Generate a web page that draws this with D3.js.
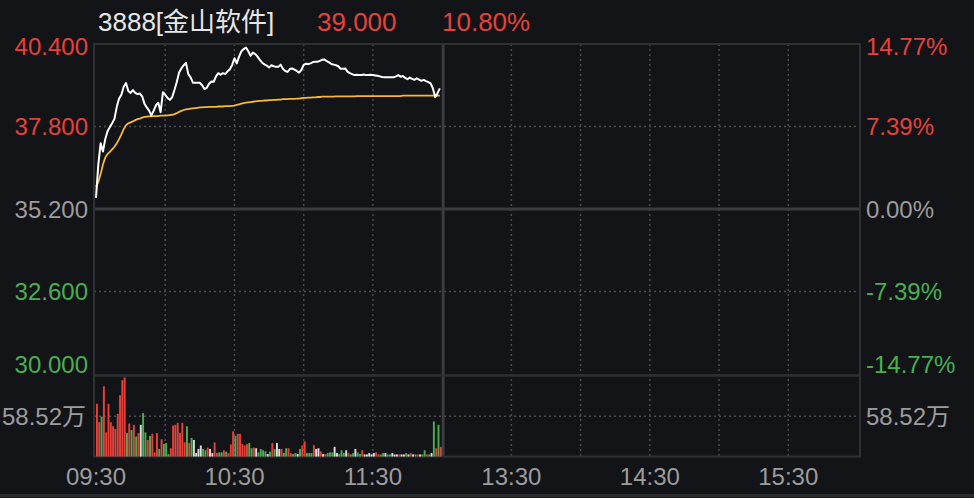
<!DOCTYPE html>
<html>
<head>
<meta charset="utf-8">
<script src="https://cdn.jsdelivr.net/npm/d3@7"></script>
<style>
  html, body { margin: 0; padding: 0; background: #131417; }
  svg { display: block; font-family: "Liberation Sans", Arial, "Noto Sans CJK SC", sans-serif; }
</style>
</head>
<body>
<div id="chart"></div>
<script>
// header
const stockName = "3888[金山软件]";
const lastPrice = "39.000";
const lastChange = "10.80%";

// price axis
const prevClose = 35.2;
const priceTicks = [40.4, 37.8, 35.2, 32.6, 30.0];
const pctTickLabels = ["14.77%", "7.39%", "0.00%", "-7.39%", "-14.77%"];

// volume axis (万)
const volumeTick = 58.52;
const volumeTickLabel = "58.52万";
const volumeMax = 117.04;

// time axis
const timeLabels = ["09:30", "10:30", "11:30", "13:30", "14:30", "15:30"];

// one value per minute from 09:30
const minutePrices = [
  35.55, 36.60, 37.27, 37.01, 37.40, 37.65, 37.78, 37.90, 38.04, 38.42,
  38.68, 38.80, 39.05, 39.17, 38.92, 38.86, 38.95, 38.86, 38.82, 38.84,
  38.75, 38.52, 38.40, 38.30, 38.15, 38.30, 38.47, 38.55, 38.25, 38.88,
  38.80, 38.70, 38.64, 38.72, 38.95, 39.20, 39.50, 39.63, 39.73, 39.80,
  39.45, 39.35, 39.18, 39.18, 39.18, 39.18, 39.10, 38.98, 39.02, 39.15,
  39.22, 39.21, 39.38, 39.48, 39.43, 39.48, 39.45, 39.54, 39.60, 39.74,
  39.95, 39.79, 40.00, 40.17, 40.24, 40.29, 40.17, 40.03, 40.13, 40.08,
  40.00, 39.90, 39.81, 39.76, 39.72, 39.66, 39.73, 39.70, 39.68, 39.68,
  39.75, 39.62, 39.55, 39.52, 39.61, 39.63, 39.59, 39.55, 39.50, 39.58,
  39.74, 39.78, 39.77, 39.79, 39.83, 39.84, 39.84, 39.87, 39.90, 39.91,
  39.86, 39.82, 39.77, 39.75, 39.73, 39.70, 39.62, 39.62, 39.63, 39.53,
  39.48, 39.45, 39.42, 39.43, 39.42, 39.42, 39.44, 39.42, 39.42, 39.43,
  39.42, 39.41, 39.40, 39.38, 39.36, 39.35, 39.35, 39.35, 39.35, 39.35,
  39.38, 39.42, 39.37, 39.39, 39.33, 39.29, 39.34, 39.30, 39.27, 39.32,
  39.28, 39.24, 39.27, 39.23, 39.20, 39.16, 39.00, 38.72, 38.85, 39.00
];

const averagePrices = [
  35.90, 36.05, 36.30, 36.60, 36.82, 36.93, 37.00, 37.08, 37.16, 37.27,
  37.40, 37.55, 37.72, 37.84, 37.90, 37.93, 37.96, 38.00, 38.03, 38.05,
  38.08, 38.10, 38.11, 38.12, 38.12, 38.13, 38.13, 38.13, 38.14, 38.14,
  38.14, 38.15, 38.16, 38.17, 38.19, 38.22, 38.26, 38.29, 38.32, 38.34,
  38.35, 38.36, 38.37, 38.38, 38.39, 38.40, 38.40, 38.41, 38.41, 38.42,
  38.42, 38.42, 38.42, 38.43, 38.43, 38.43, 38.44, 38.44, 38.44, 38.45,
  38.46, 38.48, 38.50, 38.52, 38.54, 38.55, 38.56, 38.57, 38.58, 38.59,
  38.60, 38.61, 38.61, 38.62, 38.62, 38.63, 38.63, 38.64, 38.64, 38.65,
  38.65, 38.66, 38.66, 38.66, 38.67, 38.67, 38.67, 38.68, 38.68, 38.69,
  38.70, 38.70, 38.71, 38.71, 38.72, 38.72, 38.73, 38.73, 38.74, 38.74,
  38.74, 38.74, 38.74, 38.74, 38.75, 38.75, 38.75, 38.75, 38.75, 38.75,
  38.75, 38.75, 38.75, 38.76, 38.76, 38.76, 38.76, 38.76, 38.76, 38.76,
  38.76, 38.76, 38.76, 38.76, 38.76, 38.76, 38.76, 38.76, 38.76, 38.76,
  38.76, 38.76, 38.76, 38.77, 38.77, 38.77, 38.77, 38.77, 38.77, 38.77,
  38.77, 38.77, 38.77, 38.77, 38.77, 38.77, 38.77, 38.77, 38.77, 38.77
];

// volume per minute (万)
const minuteVolumes = [
  76.6, 49.8, 58, 102, 35, 76.6, 49.8, 44, 40, 62,
  89, 111, 115, 34, 48, 38.5, 46, 29, 34, 46,
  63, 35, 24, 30, 33, 6, 34, 11, 25, 18,
  19.5, 3.5, 12, 45, 46, 49, 34, 49, 20.5, 44,
  19.5, 27, 24, 5, 11, 16, 11, 9, 13, 11,
  5, 20.5, 5, 6, 6, 9, 7, 5, 17.5, 36.6,
  30, 33, 33, 18, 16, 18, 19.5, 12, 13, 12,
  6, 11, 9, 7.5, 3.5, 7, 19.5, 11, 19.5, 11,
  11, 5, 12, 12, 5, 3.5, 5, 3.5, 11, 16,
  22, 5, 5, 5, 16.5, 11, 12, 7.5, 3.5, 3.5,
  5, 6, 6, 14, 5, 3.5, 9, 5, 9, 5,
  3, 5, 11, 6, 3.5, 9, 3, 3, 5, 3,
  5, 6, 3, 3, 5, 5, 3, 3, 5, 3,
  3, 3, 3, 3, 5, 3, 5, 3, 3, 3,
  3, 3, 9, 3, 3, 5, 51, 12, 46, 14
];

// r = up, g = down, w = unchanged
const minuteSides = (
  "rrgrrrrrrrrrrgrgrgrwggrgrrrgrgggrrrrrrrgrgwwwwggrw" +
  "wrrggrgrrrgrrrrrggrwggggwgrgwwrggrrggwgrrgggrwwrwrgg" +
  "gwwgggwrggwggrwwwwwrrggwggwwwrwwgwrwgrwggrgwgrgr"
).split("");

class IntradayChart {
  constructor(_config) {
    this.config = {
      parentElement: _config.parentElement,
      width: 974,
      height: 498,
      left: 96,
      right: 857.5,
      frameLeft: 94,
      frameRight: 860,
      priceTop: 44,
      priceBottom: 375,
      volumeTop: 376,
      volumeBottom: 456.5,
    };
    this.colors = {
      bg: "#131417",
      up: "#e8413b",
      down: "#4aae52",
      flat: "#dedede",
      neutral: "#9c9c9c",
      frame: "#2f3034",
      grid: "#4a4b50",
      line: "#ffffff",
      avg: "#f5b83a",
    };
    this.initVis();
  }

  initVis() {
    let vis = this;
    const c = vis.config;

    vis.svg = d3.select(c.parentElement)
      .append("svg")
      .attr("width", c.width)
      .attr("height", c.height);

    vis.svg.append("rect")
      .attr("width", c.width)
      .attr("height", c.height)
      .attr("fill", vis.colors.bg);

    // 330 trading minutes: 09:30-12:00 and 13:00-16:00
    vis.xScale = d3.scaleLinear().domain([0, 330]).range([c.left, c.right]);
    vis.yScale = d3.scaleLinear()
      .domain([priceTicks[priceTicks.length - 1], priceTicks[0]])
      .range([c.priceBottom - 1, c.priceTop]);
    vis.volScale = d3.scaleLinear().domain([0, volumeMax]).range([c.volumeBottom, c.volumeTop]);

    vis.renderVis();
  }

  toSessionMinute(label) {
    const [h, m] = label.split(":").map(Number);
    const mins = h * 60 + m;
    return mins < 12 * 60 ? mins - (9 * 60 + 30) : mins - 13 * 60 + 150;
  }

  renderVis() {
    let vis = this;
    const c = vis.config;
    const col = vis.colors;
    const grid = vis.svg.append("g");

    // dotted horizontal grid
    [priceTicks[1], priceTicks[3]].forEach((v) => {
      grid.append("line")
        .attr("x1", c.frameLeft).attr("x2", c.frameRight)
        .attr("y1", vis.yScale(v)).attr("y2", vis.yScale(v))
        .attr("stroke", col.grid).attr("stroke-width", 1.5)
        .attr("stroke-dasharray", "2,3");
    });
    grid.append("line")
      .attr("x1", c.frameLeft).attr("x2", c.frameRight)
      .attr("y1", vis.volScale(volumeTick)).attr("y2", vis.volScale(volumeTick))
      .attr("stroke", col.grid).attr("stroke-width", 1.5)
      .attr("stroke-dasharray", "2,3");

    // dotted vertical grid every 30 minutes
    d3.range(30, 330, 30).filter((t) => t !== 150).forEach((t) => {
      grid.append("line")
        .attr("x1", vis.xScale(t)).attr("x2", vis.xScale(t))
        .attr("y1", c.priceTop).attr("y2", c.volumeBottom)
        .attr("stroke", col.grid).attr("stroke-width", 1.5)
        .attr("stroke-dasharray", "2,3");
    });

    // prev close line
    grid.append("line")
      .attr("x1", c.frameLeft).attr("x2", c.frameRight)
      .attr("y1", vis.yScale(prevClose)).attr("y2", vis.yScale(prevClose))
      .attr("stroke", "#3b3c40").attr("stroke-width", 3);

    // lunch break line
    grid.append("line")
      .attr("x1", vis.xScale(150) + 1).attr("x2", vis.xScale(150) + 1)
      .attr("y1", c.priceTop).attr("y2", c.volumeBottom)
      .attr("stroke", "#3b3c40").attr("stroke-width", 3);

    // frames
    grid.append("rect")
      .attr("x", c.frameLeft).attr("y", c.priceTop)
      .attr("width", c.frameRight - c.frameLeft).attr("height", c.volumeBottom - c.priceTop)
      .attr("fill", "none").attr("stroke", col.frame).attr("stroke-width", 2);
    grid.append("line")
      .attr("x1", c.frameLeft).attr("x2", c.frameRight)
      .attr("y1", c.priceBottom + 0.5).attr("y2", c.priceBottom + 0.5)
      .attr("stroke", col.frame).attr("stroke-width", 2.5);
    vis.svg.append("line")
      .attr("x1", 0).attr("x2", c.width)
      .attr("y1", 495.5).attr("y2", 495.5)
      .attr("stroke", "#2a2b2f").attr("stroke-width", 3);

    // volume bars
    const sideColor = { r: col.up, g: col.down, w: col.flat };
    vis.svg.append("g")
      .selectAll("rect")
      .data(minuteVolumes)
      .join("rect")
      .attr("x", (d, i) => vis.xScale(i))
      .attr("y", (d) => vis.volScale(d))
      .attr("width", 1.9)
      .attr("height", (d) => c.volumeBottom - vis.volScale(d))
      .attr("fill", (d, i) => sideColor[minuteSides[i]]);

    // price + average lines
    const line = d3.line()
      .x((d, i) => vis.xScale(i))
      .y((d) => vis.yScale(d));

    vis.svg.append("path")
      .datum(averagePrices)
      .attr("fill", "none")
      .attr("stroke", col.avg)
      .attr("stroke-width", 1.8)
      .attr("d", line);

    vis.svg.append("path")
      .datum(minutePrices)
      .attr("fill", "none")
      .attr("stroke", col.line)
      .attr("stroke-width", 2)
      .attr("stroke-linejoin", "round")
      .attr("d", line);

    // axis labels
    const tickColor = (v) => v > prevClose ? col.up : v < prevClose ? col.down : col.neutral;
    const labelY = (v) => Math.max(c.priceTop + 2, Math.min(c.priceBottom - 11, vis.yScale(v)));

    const labels = vis.svg.append("g").attr("font-size", 24);
    labels.selectAll(".left-label")
      .data(priceTicks)
      .join("text")
      .attr("class", "left-label")
      .attr("x", 88)
      .attr("y", (d) => labelY(d))
      .attr("dy", "0.36em")
      .attr("text-anchor", "end")
      .attr("fill", (d) => tickColor(d))
      .text((d) => d.toFixed(3));

    labels.selectAll(".right-label")
      .data(priceTicks)
      .join("text")
      .attr("class", "right-label")
      .attr("x", 866)
      .attr("y", (d) => labelY(d))
      .attr("dy", "0.36em")
      .attr("text-anchor", "start")
      .attr("fill", (d) => tickColor(d))
      .text((d, i) => pctTickLabels[i]);

    labels.append("text")
      .attr("x", 86).attr("y", vis.volScale(volumeTick)).attr("dy", "0.36em")
      .attr("text-anchor", "end")
      .attr("fill", col.neutral).text(volumeTickLabel);
    labels.append("text")
      .attr("x", 866).attr("y", vis.volScale(volumeTick)).attr("dy", "0.36em")
      .attr("text-anchor", "start")
      .attr("fill", col.neutral).text(volumeTickLabel);

    labels.selectAll(".time-label")
      .data(timeLabels)
      .join("text")
      .attr("class", "time-label")
      .attr("x", (d) => vis.xScale(vis.toSessionMinute(d)))
      .attr("y", 485)
      .attr("text-anchor", "middle")
      .attr("fill", col.neutral)
      .text((d) => d);

    // header
    const head = vis.svg.append("g").attr("font-size", 26);
    head.append("text").attr("x", 98).attr("y", 31).attr("fill", "#e6e6e6").text(stockName);
    head.append("text").attr("x", 317).attr("y", 31).attr("fill", col.up).text(lastPrice);
    head.append("text").attr("x", 442).attr("y", 31).attr("fill", col.up).text(lastChange);
  }
}

new IntradayChart({ parentElement: "#chart" });
</script>
</body>
</html>
